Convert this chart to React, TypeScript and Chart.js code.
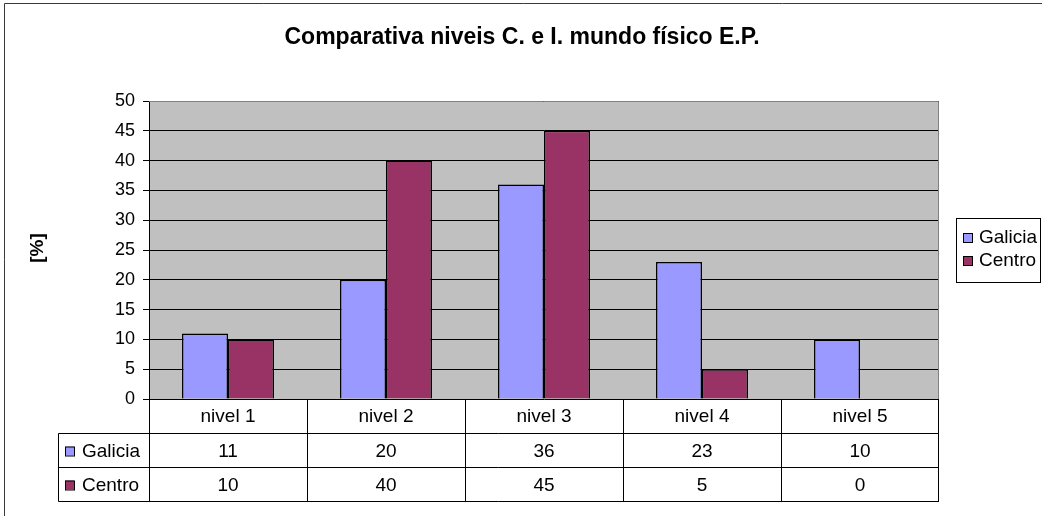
import React, { useEffect, useRef } from "react";
import { Chart, registerables } from "chart.js";

Chart.register(...registerables);

const TITLE = "Comparativa niveis C. e I. mundo físico E.P.";
const Y_TITLE = "[%]";
const CATEGORIES = ["nivel 1", "nivel 2", "nivel 3", "nivel 4", "nivel 5"];
const SERIES_NAMES = ["Galicia", "Centro"];
const GALICIA = [11, 20, 36, 23, 10];
const CENTRO = [10, 40, 45, 5, 0];
const SERIES_COLORS = ["#9999FF", "#993366"];
const Y_MIN = 0;
const Y_MAX = 50;
const Y_STEP = 5;

const FONT = "'Liberation Sans', Arial, sans-serif";

const tablePlugin = {
  id: "excelDecor",
  beforeDraw(chart: any) {
    const { ctx, chartArea } = chart;
    const W = chart.width;
    const H = chart.height;
    ctx.save();
    ctx.fillStyle = "#ffffff";
    ctx.fillRect(0, 0, W, H);
    ctx.strokeStyle = "#3a3a3a";
    ctx.lineWidth = 1;
    ctx.beginPath();
    ctx.moveTo(4.5, H);
    ctx.lineTo(4.5, 3.5);
    ctx.lineTo(W, 3.5);
    ctx.stroke();
    ctx.fillStyle = "#C0C0C0";
    ctx.fillRect(chartArea.left, chartArea.top, chartArea.right - chartArea.left, chartArea.bottom - chartArea.top);
    ctx.restore();
  },
  afterDraw(chart: any) {
    const { ctx, chartArea, scales } = chart;
    const x = scales.x;
    ctx.save();
    ctx.strokeStyle = "#808080";
    ctx.lineWidth = 1;
    ctx.beginPath();
    ctx.moveTo(chartArea.left, chartArea.top + 0.5);
    ctx.lineTo(chartArea.right - 0.5, chartArea.top + 0.5);
    ctx.lineTo(chartArea.right - 0.5, chartArea.bottom);
    ctx.stroke();

    // title
    ctx.fillStyle = "#000";
    ctx.font = `bold 23px ${FONT}`;
    ctx.textAlign = "center";
    ctx.textBaseline = "alphabetic";
    ctx.fillText(TITLE, chart.width / 2 + 1, 44);

    // y title
    ctx.save();
    ctx.translate(38, 248);
    ctx.rotate(-Math.PI / 2);
    ctx.textBaseline = "middle";
    ctx.font = `bold 19px ${FONT}`;
    ctx.fillText(Y_TITLE, 0, 0);
    ctx.restore();

    // data table
    const n = CATEGORIES.length;
    const left = chartArea.left;
    const right = chartArea.right;
    const top = chartArea.bottom;
    const colW = (right - left) / n;
    const rowY = [top, 433.5, 467.5, 501.5];
    const labelLeft = 58.5;
    ctx.strokeStyle = "#000";
    ctx.lineWidth = 1;
    ctx.beginPath();
    for (let i = 0; i <= n; i++) {
      const px = Math.round(left + i * colW) + (i === n ? -0.5 : 0.5);
      ctx.moveTo(px, top);
      ctx.lineTo(px, rowY[3]);
    }
    for (let r = 1; r < rowY.length; r++) {
      ctx.moveTo(labelLeft, rowY[r]);
      ctx.lineTo(right, rowY[r]);
    }
    ctx.moveTo(labelLeft, rowY[1]);
    ctx.lineTo(labelLeft, rowY[3]);
    ctx.stroke();

    ctx.font = `19px ${FONT}`;
    ctx.textAlign = "center";
    ctx.textBaseline = "middle";
    const seriesData = [GALICIA, CENTRO];
    for (let i = 0; i < n; i++) {
      const cx = x.getPixelForValue(i);
      ctx.fillText(CATEGORIES[i], cx, (rowY[0] + rowY[1]) / 2 + 1);
      for (let s = 0; s < seriesData.length; s++) {
        ctx.fillText(String(seriesData[s][i]), cx, (rowY[s + 1] + rowY[s + 2]) / 2 + 1);
      }
    }
    ctx.textAlign = "left";
    for (let s = 0; s < SERIES_NAMES.length; s++) {
      const cy = (rowY[s + 1] + rowY[s + 2]) / 2;
      ctx.fillStyle = SERIES_COLORS[s];
      ctx.fillRect(65, cy - 4, 9, 9);
      ctx.strokeStyle = "#000";
      ctx.strokeRect(65.5, cy - 3.5, 9, 9);
      ctx.fillStyle = "#000";
      ctx.fillText(SERIES_NAMES[s], 82, cy + 1);
    }

    // legend
    ctx.strokeStyle = "#000";
    ctx.strokeRect(956.5, 218.5, 84, 64);
    const legY = [237, 260];
    for (let s = 0; s < SERIES_NAMES.length; s++) {
      ctx.fillStyle = SERIES_COLORS[s];
      ctx.fillRect(963, legY[s] - 4, 9, 9);
      ctx.strokeRect(963.5, legY[s] - 3.5, 9, 9);
      ctx.fillStyle = "#000";
      ctx.fillText(SERIES_NAMES[s], 979, legY[s] + 1);
    }
    ctx.restore();
  },
};

export default function App() {
  const ref = useRef<HTMLCanvasElement | null>(null);
  useEffect(() => {
    document.body.style.margin = "0";
    const canvas = ref.current;
    if (!canvas) return;
    const chart = new Chart(canvas, {
      type: "bar",
      data: {
        labels: CATEGORIES,
        datasets: [
          {
            label: SERIES_NAMES[0],
            data: GALICIA,
            backgroundColor: SERIES_COLORS[0],
            borderColor: "#000",
            borderWidth: 1.5,
          },
          {
            label: SERIES_NAMES[1],
            data: CENTRO,
            backgroundColor: SERIES_COLORS[1],
            borderColor: "#000",
            borderWidth: 1.5,
          },
        ],
      },
      options: {
        responsive: false,
        animation: false,
        devicePixelRatio: 1,
        layout: { padding: { top: 101, right: 103, bottom: 117, left: 0 } },
        datasets: {
          bar: { categoryPercentage: 0.582, barPercentage: 1 },
        },
        scales: {
          x: { display: false },
          y: {
            min: Y_MIN,
            max: Y_MAX,
            ticks: {
              stepSize: Y_STEP,
              color: "#000",
              font: { family: FONT, size: 18 },
              padding: 8,
            },
            grid: {
              color: "#000",
              lineWidth: 1,
              tickLength: 6,
              drawTicks: true,
            },
            border: { display: true, color: "#000", width: 1 },
            afterFit: (scale: any) => {
              scale.width = 149;
            },
          },
        },
        plugins: {
          legend: { display: false },
          title: { display: false },
          tooltip: { enabled: false },
        },
      },
      plugins: [tablePlugin],
    });
    return () => chart.destroy();
  }, []);
  return <canvas ref={ref} width={1042} height={516} style={{ display: "block" }} />;
}
